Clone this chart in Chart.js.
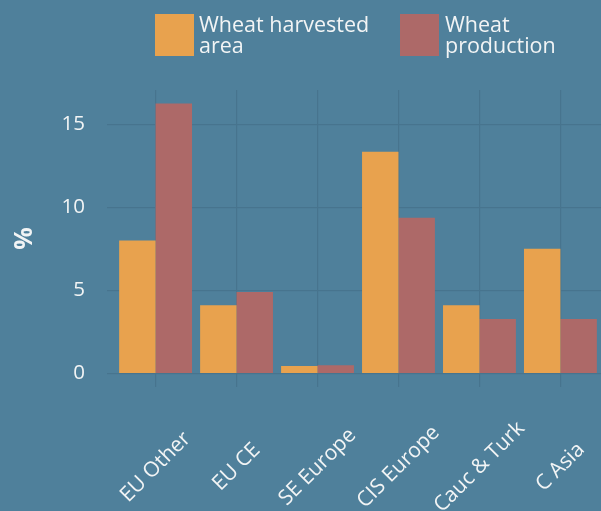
<!DOCTYPE html>
<html>
<head>
<meta charset="utf-8">
<script src="https://cdn.jsdelivr.net/npm/chart.js@4.4.1/dist/chart.umd.min.js"></script>
<style>
  html, body { margin: 0; padding: 0; width: 601px; height: 511px; overflow: hidden; background: #4f809b; }
  #wrap { position: relative; width: 609px; height: 511px; }
  .key { position: absolute; top: 14px; width: 39px; height: 42px; }
  .lab { position: absolute; top: 14px; font-family: "Open Sans", sans-serif; font-size: 21.5px; line-height: 20.6px; color: #f2f4f5; white-space: nowrap; }
</style>
</head>
<body>
<div id="wrap">
  <canvas id="chart" width="609" height="511"></canvas>
  <div class="key" style="left:155px; background:#e8a24e"></div>
  <div class="lab" style="left:199px">Wheat harvested<br>area</div>
  <div class="key" style="left:400px; background:#ad6968"></div>
  <div class="lab" style="left:445px">Wheat<br>production</div>
</div>
<script>
// share of regional total, %
const regions = ['EU Other', 'EU CE', 'SE Europe', 'CIS Europe', 'Cauc & Turk', 'C Asia'];
const harvestedArea = [8.0, 4.1, 0.45, 13.35, 4.1, 7.5];
const production = [16.25, 4.9, 0.5, 9.37, 3.28, 3.28];
const yTicks = [0, 5, 10, 15];

const textColour = '#f2f4f5';
const gridColour = '#47748e';

// category labels: rotated 45deg, centred under each group
const xLabels = {
    id: 'xLabels',
    afterDraw(chart) {
        const { ctx, scales: { x } } = chart;
        ctx.save();
        ctx.font = '21px "Open Sans"';
        ctx.fillStyle = textColour;
        ctx.textAlign = 'center';
        ctx.textBaseline = 'middle';
        regions.forEach((r, i) => {
            ctx.save();
            ctx.translate(x.getPixelForValue(i + 1), x.top + 80);
            ctx.rotate(-Math.PI / 4);
            ctx.fillText(r, 0, 0);
            ctx.restore();
        });
        ctx.restore();
    }
};

new Chart(document.getElementById('chart'), {
    type: 'bar',
    data: {
        datasets: [{
            label: 'Wheat harvested area',
            data: harvestedArea.map((v, i) => ({ x: i + 1, y: v })),
            backgroundColor: '#e8a24e'
        }, {
            label: 'Wheat production',
            data: production.map((v, i) => ({ x: i + 1, y: v })),
            backgroundColor: '#ad6968'
        }]
    },
    options: {
        responsive: false,
        animation: false,
        categoryPercentage: 0.9,
        barPercentage: 1.0,
        layout: { padding: { top: 90, left: 0, right: 0, bottom: 0 } },
        plugins: {
            legend: { display: false },
            tooltip: { enabled: false }
        },
        scales: {
            x: {
                type: 'linear',
                offset: false,
                min: 0.4,
                max: 6.6,
                afterBuildTicks: s => { s.ticks = regions.map((_, i) => ({ value: i + 1 })); },
                afterFit: s => { s.height = 124; },
                ticks: { display: false },
                grid: { offset: false, color: gridColour, lineWidth: 1.2, drawTicks: false },
                border: { display: false }
            },
            y: {
                min: -0.8125,
                max: 17.06,
                afterBuildTicks: s => { s.ticks = yTicks.map(v => ({ value: v })); },
                afterFit: s => { s.width = 107; },
                ticks: {
                    color: textColour,
                    padding: 22,
                    font: { family: 'Open Sans', size: 20.5 }
                },
                title: {
                    display: true,
                    text: '%',
                    color: textColour,
                    padding: { top: 10, bottom: 0 },
                    font: { family: 'Open Sans', size: 25, weight: 'bold' }
                },
                grid: { color: gridColour, lineWidth: 1.2, drawTicks: false },
                border: { display: false }
            }
        }
    },
    plugins: [xLabels]
});
</script>
</body>
</html>
